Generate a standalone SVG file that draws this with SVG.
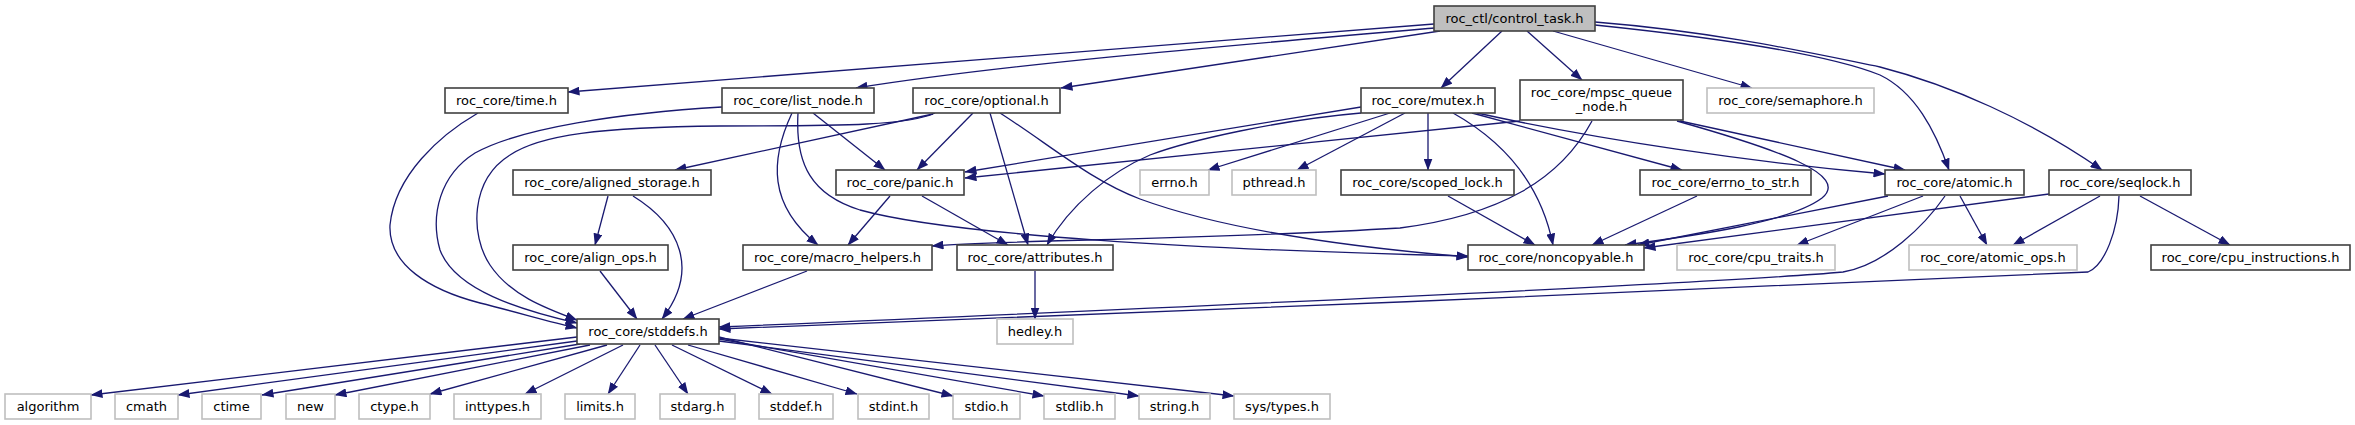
<svg xmlns="http://www.w3.org/2000/svg" width="2355" height="425" viewBox="0 0 2355 425">
<defs>
<marker id="a" markerUnits="userSpaceOnUse" markerWidth="12" markerHeight="9" viewBox="0 0 12 9" refX="11.5" refY="4.5" orient="auto">
<path d="M0,0 L12,4.5 L0,9 z" fill="#191970"/>
</marker>
<style>
rect{stroke-width:1.6}
.n rect{fill:#fff;stroke:#404040}
.g rect{fill:#fff;stroke:#bfbfbf}
.r rect{fill:#bfbfbf;stroke:#404040}
text{font-family:"DejaVu Sans","Noto Sans",sans-serif;font-size:13px;text-anchor:middle;fill:#000}
#edges path{fill:none;stroke:#191970;stroke-width:1.3;marker-end:url(#a)}
</style>
</defs>
<rect width="2355" height="425" fill="#fff"/>
<g id="edges">
<path d="M1434,24 L568,92"/>
<path d="M1434,28 C1200,48 1000,65 856,88"/>
<path d="M1440,31 L1061,88"/>
<path d="M1502,31 L1441,88"/>
<path d="M1527,31 L1582,80"/>
<path d="M1553,31 L1752,88"/>
<path d="M1595,25 C1720,38 1830,55 1880,75 C1915,92 1935,130 1949,170"/>
<path d="M1595,22 C1720,32 1820,55 1880,67 C1950,85 2030,120 2102,170"/>
<path d="M478,113 C440,135 395,175 390,225 C388,265 430,290 480,303 C520,313 550,322 577,328"/>
<path d="M722,107 C620,113 520,128 475,153 C440,175 430,215 440,250 C455,290 520,310 577,323"/>
<path d="M935,113 C910,125 850,126 720,126 C600,127 540,135 510,155 C470,180 470,235 490,265 C510,295 545,308 577,320"/>
<path d="M933,114 L675,170"/>
<path d="M973,113 L917,170"/>
<path d="M990,113 L1028,245"/>
<path d="M1000,113 C1050,145 1090,180 1140,199 C1200,221 1300,243 1468,257"/>
<path d="M798,113 C795,165 812,195 860,210 C950,235 1200,250 1468,256"/>
<path d="M813,113 L885,170"/>
<path d="M792,113 C770,160 768,205 818,245"/>
<path d="M608,196 L595,245"/>
<path d="M633,196 C680,225 700,270 662,319"/>
<path d="M600,271 L637,319"/>
<path d="M807,271 L683,319"/>
<path d="M890,196 L848,245"/>
<path d="M922,196 L1008,245"/>
<path d="M1035,271 L1035,319"/>
<path d="M1361,107 L965,172"/>
<path d="M1520,121 L965,178"/>
<path d="M1361,113 C1280,120 1190,140 1150,155 C1110,172 1070,205 1047,245"/>
<path d="M1390,113 L1208,170"/>
<path d="M1405,113 L1297,170"/>
<path d="M1428,113 L1428,170"/>
<path d="M1453,113 C1510,145 1542,190 1553,245"/>
<path d="M1472,113 L1682,170"/>
<path d="M1477,113 C1600,140 1750,162 1885,174"/>
<path d="M1592,121 C1560,180 1500,215 1400,228 C1200,240 1000,240 932,246"/>
<path d="M1677,121 C1780,150 1850,175 1822,198 C1790,222 1700,235 1625,245"/>
<path d="M1680,121 L1905,170"/>
<path d="M1448,196 L1535,245"/>
<path d="M1697,196 L1592,245"/>
<path d="M1888,196 L1638,245"/>
<path d="M1923,196 L1797,245"/>
<path d="M1960,196 L1987,245"/>
<path d="M1945,196 C1925,225 1885,265 1843,272 C1700,285 1000,315 719,327"/>
<path d="M2049,194 L1644,248"/>
<path d="M2100,196 L2013,245"/>
<path d="M2140,196 L2230,245"/>
<path d="M2119,196 C2118,230 2105,265 2088,272 C1800,287 1000,318 719,329"/>
<path d="M577,337 L91,395"/>
<path d="M577,341 L178,395"/>
<path d="M580,344 L262,395"/>
<path d="M590,345 L335,395"/>
<path d="M607,345 L430,394"/>
<path d="M623,345 L525,394"/>
<path d="M640,345 L608,394"/>
<path d="M655,345 L688,394"/>
<path d="M672,345 L772,394"/>
<path d="M688,345 L857,394"/>
<path d="M719,337 L953,396"/>
<path d="M719,339 L1044,396"/>
<path d="M719,341 L1139,396"/>
<path d="M719,338 L1234,396"/>
</g>
<g id="control_task" class="r"><rect x="1434" y="6" width="161" height="25"/><text x="1514.5" y="22.5">roc_ctl/control_task.h</text></g>
<g id="time" class="n"><rect x="445" y="88" width="123" height="25"/><text x="506.5" y="104.5">roc_core/time.h</text></g>
<g id="list_node" class="n"><rect x="722" y="88" width="152" height="25"/><text x="798" y="104.5">roc_core/list_node.h</text></g>
<g id="optional" class="n"><rect x="913" y="88" width="147" height="25"/><text x="986.5" y="104.5">roc_core/optional.h</text></g>
<g id="mutex" class="n"><rect x="1361" y="88" width="134" height="25"/><text x="1428" y="104.5">roc_core/mutex.h</text></g>
<g id="mpsc_queue_node" class="n"><rect x="1520" y="80" width="163" height="40"/><text x="1601.5" y="97">roc_core/mpsc_queue</text><text x="1601.5" y="111">_node.h</text></g>
<g id="semaphore" class="g"><rect x="1707" y="88" width="167" height="25"/><text x="1790.5" y="104.5">roc_core/semaphore.h</text></g>
<g id="aligned_storage" class="n"><rect x="513" y="170" width="198" height="25"/><text x="612" y="186.5">roc_core/aligned_storage.h</text></g>
<g id="panic" class="n"><rect x="836" y="170" width="128" height="25"/><text x="900" y="186.5">roc_core/panic.h</text></g>
<g id="errno" class="g"><rect x="1140" y="170" width="69" height="25"/><text x="1174.5" y="186.5">errno.h</text></g>
<g id="pthread" class="g"><rect x="1232" y="170" width="84" height="25"/><text x="1274" y="186.5">pthread.h</text></g>
<g id="scoped_lock" class="n"><rect x="1341" y="170" width="173" height="25"/><text x="1427.5" y="186.5">roc_core/scoped_lock.h</text></g>
<g id="errno_to_str" class="n"><rect x="1640" y="170" width="171" height="25"/><text x="1725.5" y="186.5">roc_core/errno_to_str.h</text></g>
<g id="atomic" class="n"><rect x="1885" y="170" width="139" height="25"/><text x="1954.5" y="186.5">roc_core/atomic.h</text></g>
<g id="seqlock" class="n"><rect x="2049" y="170" width="142" height="25"/><text x="2120" y="186.5">roc_core/seqlock.h</text></g>
<g id="align_ops" class="n"><rect x="513" y="245" width="155" height="25"/><text x="590.5" y="261.5">roc_core/align_ops.h</text></g>
<g id="macro_helpers" class="n"><rect x="743" y="245" width="189" height="25"/><text x="837.5" y="261.5">roc_core/macro_helpers.h</text></g>
<g id="attributes" class="n"><rect x="957" y="245" width="156" height="25"/><text x="1035" y="261.5">roc_core/attributes.h</text></g>
<g id="noncopyable" class="n"><rect x="1468" y="245" width="176" height="25"/><text x="1556" y="261.5">roc_core/noncopyable.h</text></g>
<g id="cpu_traits" class="g"><rect x="1677" y="245" width="158" height="25"/><text x="1756" y="261.5">roc_core/cpu_traits.h</text></g>
<g id="atomic_ops" class="g"><rect x="1909" y="245" width="168" height="25"/><text x="1993" y="261.5">roc_core/atomic_ops.h</text></g>
<g id="cpu_instructions" class="n"><rect x="2151" y="245" width="199" height="25"/><text x="2250.5" y="261.5">roc_core/cpu_instructions.h</text></g>
<g id="stddefs" class="n"><rect x="577" y="319" width="142" height="25"/><text x="648" y="335.5">roc_core/stddefs.h</text></g>
<g id="hedley" class="g"><rect x="997" y="319" width="76" height="25"/><text x="1035" y="335.5">hedley.h</text></g>
<g id="algorithm" class="g"><rect x="5" y="394" width="86" height="25"/><text x="48" y="410.5">algorithm</text></g>
<g id="cmath" class="g"><rect x="115" y="394" width="63" height="25"/><text x="146.5" y="410.5">cmath</text></g>
<g id="ctime" class="g"><rect x="202" y="394" width="59" height="25"/><text x="231.5" y="410.5">ctime</text></g>
<g id="new" class="g"><rect x="286" y="394" width="49" height="25"/><text x="310.5" y="410.5">new</text></g>
<g id="ctype" class="g"><rect x="359" y="394" width="71" height="25"/><text x="394.5" y="410.5">ctype.h</text></g>
<g id="inttypes" class="g"><rect x="454" y="394" width="87" height="25"/><text x="497.5" y="410.5">inttypes.h</text></g>
<g id="limits" class="g"><rect x="565" y="394" width="70" height="25"/><text x="600" y="410.5">limits.h</text></g>
<g id="stdarg" class="g"><rect x="660" y="394" width="75" height="25"/><text x="697.5" y="410.5">stdarg.h</text></g>
<g id="stddef" class="g"><rect x="759" y="394" width="74" height="25"/><text x="796" y="410.5">stddef.h</text></g>
<g id="stdint" class="g"><rect x="858" y="394" width="71" height="25"/><text x="893.5" y="410.5">stdint.h</text></g>
<g id="stdio" class="g"><rect x="953" y="394" width="67" height="25"/><text x="986.5" y="410.5">stdio.h</text></g>
<g id="stdlib" class="g"><rect x="1044" y="394" width="71" height="25"/><text x="1079.5" y="410.5">stdlib.h</text></g>
<g id="string" class="g"><rect x="1139" y="394" width="71" height="25"/><text x="1174.5" y="410.5">string.h</text></g>
<g id="sys_types" class="g"><rect x="1234" y="394" width="96" height="25"/><text x="1282" y="410.5">sys/types.h</text></g>
</svg>
